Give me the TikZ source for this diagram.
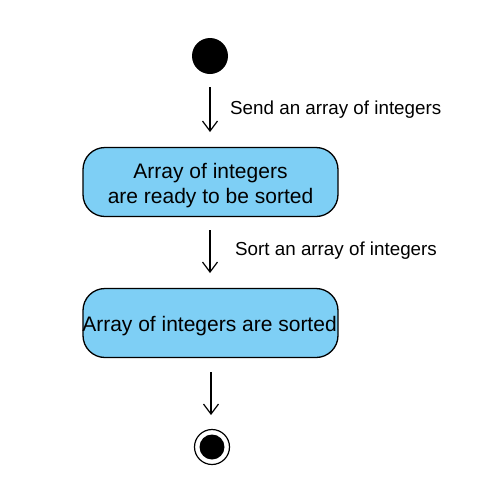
\documentclass[tikz,border=0pt]{standalone}
\usepackage{fontspec}
\setmainfont{Liberation Sans}
\usetikzlibrary{arrows.meta}
\definecolor{actblue}{RGB}{126,207,245}
\begin{document}
\begin{tikzpicture}[x=1pt,y=-1pt,
  act/.style={draw=black,line width=1.3pt,fill=actblue,rounded corners=22pt,minimum width=255pt,minimum height=69pt,inner sep=0pt},
  acttext/.style={inner sep=0pt,align=center,font=\fontsize{21}{25}\selectfont},
  flow/.style={line width=1.2pt,-{Straight Barb[length=10pt,width=15pt,line width=1.2pt]}},
  lbl/.style={anchor=base west,inner sep=0pt,font=\fontsize{18.8}{22}\selectfont}]
\useasboundingbox (0,0) rectangle (499,491);
\fill[white] (0,0) rectangle (499,491);
\node[circle,fill=black,minimum size=36pt,inner sep=0pt] (init) at (210,56) {};
\node[act] (a1) at (210.5,182) {};
\node[acttext] (t1) at (210.5,185.5) {Array of integers\\are ready to be sorted};
\node[act] (a2) at (210.5,323) {};
\node[acttext] (t2) at (209.5,326) {Array of integers are sorted};
\node[circle,draw=black,line width=1.2pt,fill=white,minimum size=35pt,inner sep=0pt] (fin) at (212,447) {};
\node[circle,fill=black,minimum size=25pt,inner sep=0pt] (finin) at (fin.center) {};
\coordinate (s1) at (210,87);
\coordinate (e1) at (210,132);
\coordinate (s2) at (210,230);
\coordinate (e2) at (210,273);
\coordinate (s3) at (211,372);
\coordinate (e3) at (211,415);
\draw[flow] (s1) -- (e1);
\draw[flow] (s2) -- (e2);
\draw[flow] (s3) -- (e3);
\node[lbl] (l1) at (230,114) {Send an array of integers};
\node[lbl] (l2) at (235,255) {Sort an array of integers};
\end{tikzpicture}
\end{document}
